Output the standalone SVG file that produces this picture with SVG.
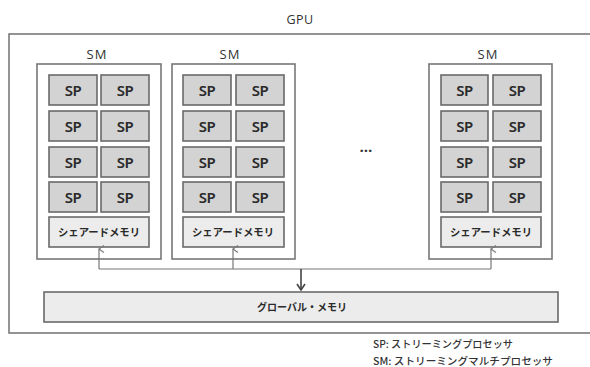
<svg xmlns="http://www.w3.org/2000/svg" width="590" height="367" viewBox="0 0 590 367">
<defs>
<style>
.lbl{font-family:"Open Sans","Noto Sans","Noto Sans CJK JP",sans-serif;fill:#333;text-anchor:middle}
.sm{fill:#fff;stroke:#777;stroke-width:1.6}
.sp{fill:#d3d3d3;stroke:#6a6a6a;stroke-width:1.6}
.sh{fill:#ececec;stroke:#6a6a6a;stroke-width:1.6}
.spt{font-family:"Noto Sans","Noto Sans CJK JP",sans-serif;font-size:15px;font-weight:600;fill:#2a2a2a;text-anchor:middle;letter-spacing:-0.5px}
.jp{font-family:"Noto Sans CJK JP",sans-serif;font-weight:bold;fill:#2a2a2a;text-anchor:middle}
.ln{fill:none;stroke:#777;stroke-width:1.2}
</style>
<marker id="up" markerWidth="8" markerHeight="8" refX="4" refY="1" orient="auto-start-reverse" markerUnits="userSpaceOnUse" viewBox="0 0 8 8">
<path d="M0.5,6 L4,1 L7.5,6" fill="none" stroke="#777" stroke-width="1.1"/>
</marker>
<marker id="dn" markerWidth="10" markerHeight="10" refX="5" refY="9" markerUnits="userSpaceOnUse" viewBox="0 0 10 10">
<path d="M1,3 L5,9 L9,3" fill="none" stroke="#444" stroke-width="1.6"/>
</marker>
</defs>
<rect width="590" height="367" fill="#fff"/>
<g id="gpu">
<rect x="9" y="34" width="590" height="299" fill="#fff" stroke="#7a7a7a" stroke-width="1.6"/>
<text class="lbl" x="300" y="24" font-size="12.5" letter-spacing="0.5">GPU</text>
</g>
<g id="sm1">
<text class="lbl" x="97" y="59" font-size="13" letter-spacing="1">SM</text>
<rect class="sm" x="37" y="64" width="124" height="195"/>
<rect class="sp" x="49" y="75" width="48" height="30"/><text class="spt" x="73" y="95.5">SP</text>
<rect class="sp" x="101" y="75" width="48" height="30"/><text class="spt" x="125" y="95.5">SP</text>
<rect class="sp" x="49" y="111" width="48" height="30"/><text class="spt" x="73" y="131.5">SP</text>
<rect class="sp" x="101" y="111" width="48" height="30"/><text class="spt" x="125" y="131.5">SP</text>
<rect class="sp" x="49" y="147" width="48" height="30"/><text class="spt" x="73" y="167.5">SP</text>
<rect class="sp" x="101" y="147" width="48" height="30"/><text class="spt" x="125" y="167.5">SP</text>
<rect class="sp" x="49" y="182" width="48" height="30"/><text class="spt" x="73" y="202.5">SP</text>
<rect class="sp" x="101" y="182" width="48" height="30"/><text class="spt" x="125" y="202.5">SP</text>
<rect class="sh" x="49" y="217" width="100" height="30"/><text class="jp" x="99" y="236" font-size="10.5" textLength="82" lengthAdjust="spacingAndGlyphs">シェアードメモリ</text>
</g>
<g id="sm2">
<text class="lbl" x="230" y="59" font-size="13" letter-spacing="1">SM</text>
<rect class="sm" x="172" y="64" width="123" height="195"/>
<rect class="sp" x="183" y="75" width="48" height="30"/><text class="spt" x="207" y="95.5">SP</text>
<rect class="sp" x="236" y="75" width="48" height="30"/><text class="spt" x="260" y="95.5">SP</text>
<rect class="sp" x="183" y="111" width="48" height="30"/><text class="spt" x="207" y="131.5">SP</text>
<rect class="sp" x="236" y="111" width="48" height="30"/><text class="spt" x="260" y="131.5">SP</text>
<rect class="sp" x="183" y="147" width="48" height="30"/><text class="spt" x="207" y="167.5">SP</text>
<rect class="sp" x="236" y="147" width="48" height="30"/><text class="spt" x="260" y="167.5">SP</text>
<rect class="sp" x="183" y="182" width="48" height="30"/><text class="spt" x="207" y="202.5">SP</text>
<rect class="sp" x="236" y="182" width="48" height="30"/><text class="spt" x="260" y="202.5">SP</text>
<rect class="sh" x="183" y="217" width="101" height="30"/><text class="jp" x="233" y="236" font-size="10.5" textLength="82" lengthAdjust="spacingAndGlyphs">シェアードメモリ</text>
</g>
<g id="dots">
<text class="lbl" x="366" y="152" font-size="15" font-weight="bold">…</text>
</g>
<g id="sm3">
<text class="lbl" x="488" y="59" font-size="13" letter-spacing="1">SM</text>
<rect class="sm" x="429" y="64" width="123" height="195"/>
<rect class="sp" x="441" y="75" width="47" height="30"/><text class="spt" x="464.5" y="95.5">SP</text>
<rect class="sp" x="493" y="75" width="48" height="30"/><text class="spt" x="517" y="95.5">SP</text>
<rect class="sp" x="441" y="111" width="47" height="30"/><text class="spt" x="464.5" y="131.5">SP</text>
<rect class="sp" x="493" y="111" width="48" height="30"/><text class="spt" x="517" y="131.5">SP</text>
<rect class="sp" x="441" y="147" width="47" height="30"/><text class="spt" x="464.5" y="167.5">SP</text>
<rect class="sp" x="493" y="147" width="48" height="30"/><text class="spt" x="517" y="167.5">SP</text>
<rect class="sp" x="441" y="182" width="47" height="30"/><text class="spt" x="464.5" y="202.5">SP</text>
<rect class="sp" x="493" y="182" width="48" height="30"/><text class="spt" x="517" y="202.5">SP</text>
<rect class="sh" x="441" y="217" width="100" height="30"/><text class="jp" x="491" y="236" font-size="10.5" textLength="82" lengthAdjust="spacingAndGlyphs">シェアードメモリ</text>
</g>
<g id="global">
<rect x="44" y="292" width="514" height="30" fill="#ececec" stroke="#6a6a6a" stroke-width="1.6"/>
<text class="jp" x="302" y="311" font-size="10.5" textLength="90" lengthAdjust="spacingAndGlyphs">グローバル・メモリ</text>
</g>
<g id="connectors">
<path class="ln" d="M99,269 H491"/>
<path class="ln" d="M99,269 V249" marker-end="url(#up)"/>
<path class="ln" d="M233,269 V249" marker-end="url(#up)"/>
<path class="ln" d="M491,269 V249" marker-end="url(#up)"/>
<path d="M301,269 V290" fill="none" stroke="#444" stroke-width="1.6" marker-end="url(#dn)"/>
</g>
<g id="legend">
<text x="373" y="348" font-family="Noto Sans CJK JP,sans-serif" font-size="10" font-weight="500" fill="#333" textLength="140" lengthAdjust="spacingAndGlyphs">SP: ストリーミングプロセッサ</text>
<text x="373" y="365" font-family="Noto Sans CJK JP,sans-serif" font-size="10" font-weight="500" fill="#333" textLength="180" lengthAdjust="spacingAndGlyphs">SM: ストリーミングマルチプロセッサ</text>
</g>
</svg>
